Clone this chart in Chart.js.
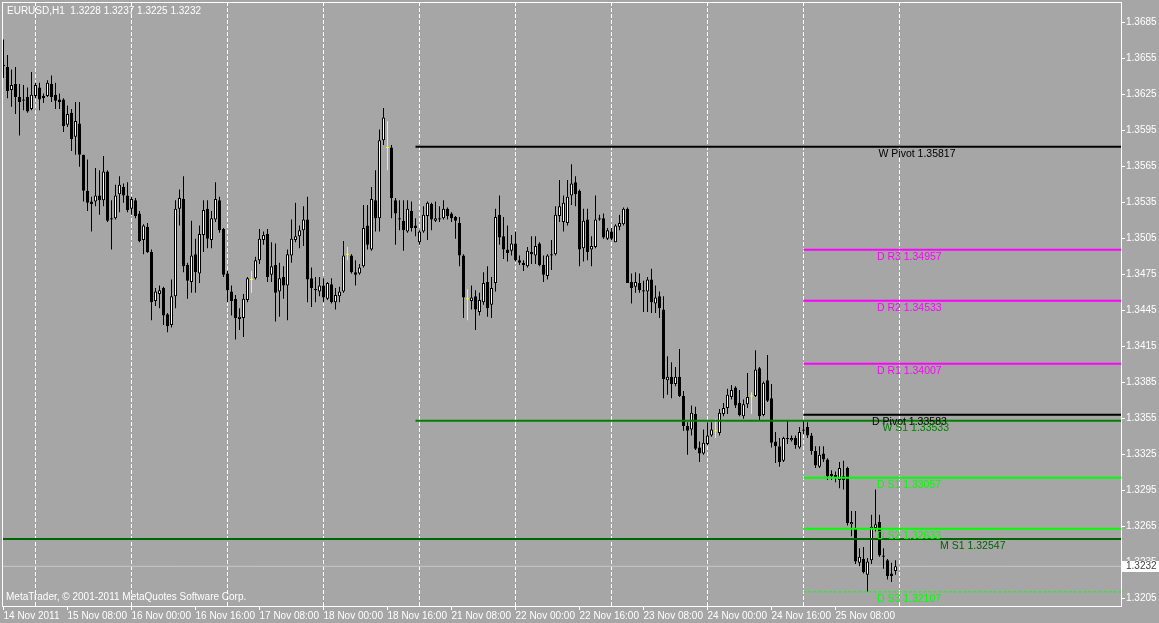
<!DOCTYPE html>
<html>
<head>
<meta charset="utf-8">
<script src="https://cdn.jsdelivr.net/npm/chart.js@4/dist/chart.umd.min.js"></script>
<style>
  html, body { margin: 0; padding: 0; background: #a6a6a6; }
  canvas { display: block; background: #a6a6a6; }
</style>
</head>
<body>
<canvas id="chart" width="1159" height="623"></canvas>
<script>
// EURUSD H1, 14 Nov 2011 16:00 .. 25 Nov 2011 23:00 (one entry per hour bar)
const opens = [
  1.3649,1.3648,1.3629,1.3634,1.3623,1.3621,1.3623,1.3613,1.3624,1.3631,1.3624,1.3624,1.3634,1.3625,1.3621,1.3621,
  1.3600,1.3610,1.3590,1.3601,1.3575,1.3545,1.3536,1.3536,1.3541,1.3537,1.3561,1.3522,1.3522,1.3542,1.3548,1.3541,
  1.3530,1.3537,1.3526,1.3504,1.3515,1.3494,1.3453,1.3459,1.3464,1.3442,1.3433,1.3457,1.3530,1.3538,1.3483,1.3469,
  1.3492,1.3476,1.3508,1.3530,1.3504,1.3521,1.3537,1.3513,1.3476,1.3461,1.3455,1.3438,1.3439,1.3454,1.3471,1.3472,
  1.3487,1.3504,1.3509,1.3475,1.3483,1.3461,1.3473,1.3466,1.3491,1.3504,1.3507,1.3512,1.3521,1.3472,1.3463,1.3461,
  1.3466,1.3455,1.3467,1.3452,1.3457,1.3461,1.3492,1.3491,1.3477,1.3476,1.3482,1.3516,1.3496,1.3537,1.3522,1.3587,
  1.3581,1.3581,1.3537,1.3522,1.3520,1.3511,1.3528,1.3516,1.3502,1.3511,1.3524,1.3534,1.3520,1.3522,1.3522,1.3530,
  1.3526,1.3523,1.3518,1.3491,1.3455,1.3453,1.3457,1.3444,1.3452,1.3469,1.3450,1.3468,1.3525,1.3507,1.3496,1.3495,
  1.3501,1.3487,1.3485,1.3482,1.3494,1.3491,1.3501,1.3483,1.3474,1.3492,1.3492,1.3524,1.3519,1.3518,1.3541,1.3552,
  1.3545,1.3497,1.3521,1.3496,1.3498,1.3522,1.3522,1.3505,1.3511,1.3502,1.3515,1.3517,1.3530,1.3469,1.3465,1.3468,
  1.3462,1.3461,1.3471,1.3451,1.3457,1.3446,1.3387,1.3390,1.3384,1.3390,1.3374,1.3349,1.3346,1.3359,1.3331,1.3326,
  1.3334,1.3341,1.3345,1.3343,1.3359,1.3364,1.3373,1.3381,1.3368,1.3357,1.3367,1.3374,1.3374,1.3397,1.3358,1.3387,
  1.3372,1.3336,1.3332,1.3320,1.3339,1.3337,1.3339,1.3331,1.3346,1.3348,1.3341,1.3328,1.3315,1.3326,1.3321,1.3309,
  1.3308,1.3304,1.3307,1.3314,1.3267,1.3264,1.3235,1.3238,1.3225,1.3237,1.3264,1.3269,1.3241,1.3237,1.3226,1.3228
];
const highs = [
  1.3671,1.3658,1.3646,1.3648,1.3634,1.3633,1.3631,1.3644,1.3635,1.3635,1.3626,1.3637,1.3641,1.3635,1.3626,1.3622,
  1.3616,1.3613,1.3619,1.3619,1.3575,1.3571,1.3540,1.3564,1.3562,1.3574,1.3562,1.3537,1.3550,1.3557,1.3551,1.3552,
  1.3540,1.3539,1.3528,1.3517,1.3518,1.3496,1.3464,1.3466,1.3465,1.3443,1.3471,1.3537,1.3546,1.3557,1.3485,1.3520,
  1.3505,1.3516,1.3537,1.3537,1.3528,1.3552,1.3540,1.3514,1.3478,1.3466,1.3458,1.3447,1.3459,1.3473,1.3478,1.3490,
  1.3513,1.3511,1.3513,1.3502,1.3501,1.3485,1.3482,1.3496,1.3521,1.3535,1.3516,1.3532,1.3540,1.3481,1.3473,1.3473,
  1.3472,1.3469,1.3472,1.3464,1.3465,1.3503,1.3498,1.3492,1.3487,1.3484,1.3533,1.3533,1.3548,1.3562,1.3596,1.3614,
  1.3603,1.3583,1.3539,1.3537,1.3537,1.3537,1.3536,1.3522,1.3512,1.3532,1.3536,1.3535,1.3536,1.3532,1.3537,1.3531,
  1.3527,1.3524,1.3523,1.3492,1.3463,1.3466,1.3462,1.3460,1.3477,1.3482,1.3473,1.3530,1.3541,1.3523,1.3516,1.3508,
  1.3511,1.3491,1.3487,1.3498,1.3507,1.3507,1.3502,1.3491,1.3492,1.3504,1.3532,1.3554,1.3541,1.3554,1.3567,1.3557,
  1.3546,1.3530,1.3530,1.3507,1.3541,1.3525,1.3526,1.3514,1.3514,1.3517,1.3525,1.3531,1.3531,1.3476,1.3477,1.3476,
  1.3470,1.3473,1.3480,1.3466,1.3461,1.3457,1.3407,1.3402,1.3398,1.3413,1.3378,1.3352,1.3366,1.3365,1.3336,1.3346,
  1.3352,1.3352,1.3355,1.3363,1.3368,1.3380,1.3383,1.3382,1.3379,1.3371,1.3393,1.3377,1.3412,1.3398,1.3386,1.3408,
  1.3384,1.3344,1.3339,1.3340,1.3353,1.3341,1.3341,1.3348,1.3353,1.3352,1.3343,1.3332,1.3332,1.3332,1.3322,1.3312,
  1.3311,1.3319,1.3320,1.3315,1.3278,1.3278,1.3247,1.3248,1.3239,1.3275,1.3296,1.3275,1.3247,1.3238,1.3235,1.3237
];
const lows = [
  1.3639,1.3622,1.3615,1.3609,1.3591,1.3612,1.3610,1.3612,1.3622,1.3612,1.3618,1.3623,1.3619,1.3613,1.3613,1.3594,
  1.3598,1.3578,1.3575,1.3565,1.3536,1.3528,1.3511,1.3532,1.3525,1.3532,1.3519,1.3496,1.3521,1.3527,1.3535,1.3527,
  1.3525,1.3522,1.3502,1.3492,1.3493,1.3437,1.3449,1.3447,1.3433,1.3427,1.3431,1.3447,1.3516,1.3477,1.3455,1.3460,
  1.3460,1.3468,1.3494,1.3497,1.3497,1.3519,1.3510,1.3473,1.3452,1.3441,1.3421,1.3429,1.3423,1.3452,1.3460,1.3471,
  1.3484,1.3500,1.3469,1.3469,1.3436,1.3440,1.3455,1.3437,1.3485,1.3502,1.3497,1.3499,1.3452,1.3448,1.3452,1.3457,
  1.3452,1.3454,1.3451,1.3446,1.3452,1.3460,1.3487,1.3476,1.3466,1.3475,1.3481,1.3496,1.3495,1.3511,1.3511,1.3583,
  1.3562,1.3522,1.3500,1.3512,1.3495,1.3510,1.3511,1.3507,1.3500,1.3510,1.3504,1.3512,1.3519,1.3519,1.3521,1.3521,
  1.3519,1.3505,1.3482,1.3439,1.3437,1.3446,1.3429,1.3441,1.3450,1.3440,1.3439,1.3461,1.3500,1.3488,1.3486,1.3491,
  1.3486,1.3483,1.3478,1.3481,1.3484,1.3484,1.3482,1.3469,1.3471,1.3479,1.3491,1.3519,1.3511,1.3516,1.3533,1.3532,
  1.3482,1.3486,1.3487,1.3482,1.3497,1.3520,1.3505,1.3504,1.3504,1.3502,1.3512,1.3516,1.3468,1.3451,1.3460,1.3460,
  1.3444,1.3444,1.3443,1.3443,1.3439,1.3372,1.3375,1.3372,1.3382,1.3373,1.3345,1.3325,1.3341,1.3329,1.3319,1.3325,
  1.3333,1.3340,1.3339,1.3341,1.3357,1.3359,1.3371,1.3364,1.3357,1.3355,1.3364,1.3359,1.3373,1.3354,1.3357,1.3369,
  1.3331,1.3318,1.3315,1.3319,1.3334,1.3336,1.3330,1.3330,1.3342,1.3339,1.3325,1.3314,1.3314,1.3319,1.3304,1.3304,
  1.3302,1.3297,1.3296,1.3266,1.3257,1.3234,1.3232,1.3226,1.3211,1.3234,1.3261,1.3240,1.3230,1.3221,1.3219,1.3225
];
const closes = [
  1.3650,1.3628,1.3633,1.3623,1.3619,1.3620,1.3611,1.3625,1.3633,1.3621,1.3622,1.3635,1.3623,1.3620,1.3619,1.3599,
  1.3609,1.3588,1.3603,1.3575,1.3545,1.3535,1.3534,1.3541,1.3537,1.3561,1.3520,1.3521,1.3541,1.3550,1.3541,1.3529,
  1.3538,1.3524,1.3503,1.3516,1.3494,1.3452,1.3461,1.3462,1.3441,1.3432,1.3457,1.3530,1.3539,1.3482,1.3470,1.3491,
  1.3477,1.3509,1.3529,1.3505,1.3522,1.3538,1.3512,1.3475,1.3462,1.3453,1.3439,1.3440,1.3455,1.3472,1.3471,1.3487,
  1.3505,1.3508,1.3473,1.3482,1.3460,1.3472,1.3466,1.3492,1.3505,1.3507,1.3512,1.3521,1.3471,1.3464,1.3462,1.3466,
  1.3456,1.3468,1.3452,1.3458,1.3461,1.3491,1.3492,1.3477,1.3475,1.3481,1.3514,1.3500,1.3538,1.3522,1.3587,1.3606,
  1.3581,1.3539,1.3526,1.3521,1.3512,1.3530,1.3514,1.3514,1.3511,1.3525,1.3535,1.3521,1.3522,1.3521,1.3530,1.3524,
  1.3522,1.3520,1.3491,1.3456,1.3455,1.3456,1.3446,1.3454,1.3468,1.3447,1.3464,1.3523,1.3506,1.3496,1.3493,1.3501,
  1.3487,1.3485,1.3483,1.3495,1.3492,1.3499,1.3483,1.3475,1.3491,1.3491,1.3525,1.3532,1.3535,1.3540,1.3551,1.3542,
  1.3496,1.3520,1.3494,1.3499,1.3521,1.3521,1.3506,1.3512,1.3505,1.3516,1.3518,1.3530,1.3468,1.3464,1.3469,1.3462,
  1.3461,1.3471,1.3452,1.3456,1.3447,1.3388,1.3390,1.3384,1.3390,1.3374,1.3349,1.3345,1.3360,1.3330,1.3326,1.3335,
  1.3341,1.3346,1.3345,1.3360,1.3364,1.3375,1.3379,1.3366,1.3358,1.3367,1.3373,1.3374,1.3396,1.3357,1.3385,1.3370,
  1.3335,1.3332,1.3319,1.3339,1.3338,1.3339,1.3333,1.3344,1.3345,1.3341,1.3328,1.3316,1.3325,1.3321,1.3307,1.3307,
  1.3306,1.3314,1.3304,1.3268,1.3269,1.3236,1.3240,1.3227,1.3236,1.3265,1.3267,1.3241,1.3240,1.3224,1.3224,1.3232
];

// time axis labels (every 16 bars) and day separators
const xLabels = ['14 Nov 2011','15 Nov 08:00','16 Nov 00:00','16 Nov 16:00','17 Nov 08:00','18 Nov 00:00','18 Nov 16:00',
  '21 Nov 08:00','22 Nov 00:00','22 Nov 16:00','23 Nov 08:00','24 Nov 00:00','24 Nov 16:00','25 Nov 08:00'];
const xLabelBars = [0,16,32,48,64,80,96,112,128,144,160,176,192,208];
const dayBars = [8,32,56,80,104,128,152,176,200,224];

const priceTicks = [1.3205,1.3235,1.3265,1.3295,1.3325,1.3355,1.3385,1.3415,1.3445,1.3475,1.3505,1.3535,1.3565,1.3595,1.3625,1.3655,1.3685];

// pivot levels
const levelNames  = ['W Pivot','D R3','D R2','D R1','D Pivot','W S1','D S1','D S2','M S1','D S3'];
const levelValues = [1.35817,1.34957,1.34533,1.34007,1.33583,1.33533,1.33057,1.32633,1.32547,1.32107];
const levelFrom   = [103,200,200,200,200,103,200,200,null,200];   // bar where the line starts (null = left edge)

const lastPrice = 1.3232;
const header = 'EURUSD,H1  1.3228 1.3237 1.3225 1.3232';

// ---- look ----
const X_MIN = -0.375, X_MAX = 279.625;
const Y_MIN = 1.319892, Y_MAX = 1.370225;
const FONT = '"Liberation Sans", Arial, sans-serif';
const levelColors = ['#000000','#ff00ff','#ff00ff','#ff00ff','#000000','#008000','#00ff00','#00ff00','#006400','#00ff00'];
const levelWidth  = [2,2,2,2,2,2,2,2,2,1];
const levelDash   = [[],[],[],[],[],[],[],[],[],[3,2]];
const levelTextBar = [219,218.6,218.6,218.6,217.4,220,218.6,218.6,234.4,218.6];

const bars = opens.map((o, i) => i);
const isDoji = i => opens[i] === closes[i];
const bodyBars = bars.filter(i => !isDoji(i));
const dojiBars = bars.filter(i => isDoji(i));

const datasets = [
  {
    type: 'line', order: 9, data: [{x: X_MIN, y: lastPrice}, {x: X_MAX, y: lastPrice}],
    borderColor: '#c8c8c8', borderWidth: 1, pointRadius: 0
  },
  {
    type: 'bar', order: 4, grouped: false, inflateAmount: 0,
    data: bars.map(i => ({x: i, y: [lows[i], highs[i]]})),
    barThickness: 1, borderWidth: 0,
    backgroundColor: bars.map(i => isDoji(i) ? '#ffff00' : '#000000')
  },
  {
    type: 'bar', order: 3, grouped: false, inflateAmount: 0,
    data: bodyBars.map(i => ({x: i, y: [opens[i], closes[i]]})),
    barThickness: 3, borderWidth: 1, borderColor: '#000000', borderSkipped: false,
    backgroundColor: bodyBars.map(i => closes[i] > opens[i] ? '#ffffff' : '#000000')
  },
  {
    type: 'scatter', order: 2, data: dojiBars.map(i => ({x: i, y: opens[i]})),
    pointStyle: 'line', pointRadius: 1.5, borderColor: '#ffff00', borderWidth: 1
  }
];
levelValues.forEach((v, k) => {
  datasets.push({
    type: 'line', order: 1,
    data: [{x: levelFrom[k] === null ? X_MIN : levelFrom[k], y: v}, {x: X_MAX, y: v}],
    borderColor: levelColors[k], borderWidth: levelWidth[k], borderDash: levelDash[k], pointRadius: 0
  });
});

const noPad = s => { s.paddingLeft = 0; s.paddingRight = 0; s.paddingTop = 0; s.paddingBottom = 0; };

const decor = {
  id: 'decor',
  afterDatasetsDraw(chart) {
    const {ctx, scales: {x, y}} = chart;
    ctx.save();
    ctx.font = '10.5px ' + FONT;
    ctx.textBaseline = 'middle';
    levelValues.forEach((v, k) => {
      ctx.fillStyle = levelColors[k];
      ctx.fillText(levelNames[k] + ' ' + v.toFixed(5), x.getPixelForValue(levelTextBar[k]) - 1, y.getPixelForValue(v) + 7);
    });
    ctx.restore();
  },
  afterDraw(chart) {
    const {ctx, chartArea: a, scales: {y}} = chart;
    ctx.save();
    ctx.strokeStyle = '#ffffff';
    ctx.lineWidth = 1;
    ctx.strokeRect(a.left + 0.5, a.top + 0.5, a.right - a.left - 1, a.bottom - a.top);
    ctx.font = '10px ' + FONT;
    ctx.textBaseline = 'middle';
    ctx.fillStyle = '#ffffff';
    ctx.fillText(header, 7, 11);
    ctx.fillText('MetaTrader, \u00a9 2001-2011 MetaQuotes Software Corp.', 6, 597);
    const py = Math.round(y.getPixelForValue(lastPrice));
    ctx.fillRect(a.right, py - 5, 1159 - a.right, 11);
    ctx.fillStyle = '#404040';
    ctx.fillText(lastPrice.toFixed(4), a.right + 4, py + 0.5);
    ctx.restore();
  }
};

new Chart(document.getElementById('chart'), {
  type: 'bar',
  data: { datasets },
  plugins: [decor],
  options: {
    responsive: false,
    devicePixelRatio: 1,
    animation: false,
    events: [],
    layout: { autoPadding: false, padding: { left: 2, top: 2, right: 0, bottom: 0 } },
    plugins: { legend: { display: false }, tooltip: { enabled: false } },
    scales: {
      x: {
        type: 'linear', position: 'bottom', min: X_MIN, max: X_MAX, offset: false,
        afterBuildTicks: s => { s.ticks = xLabelBars.map(v => ({value: v})); },
        afterFit: s => { s.height = 17; noPad(s); },
        ticks: {
          autoSkip: false, maxRotation: 0, minRotation: 0, align: 'start', padding: 0,
          color: '#ffffff', font: { family: FONT, size: 10 },
          callback: (v, idx) => xLabels[idx]
        },
        grid: { offset: false, drawOnChartArea: false, drawTicks: true, tickLength: 4, color: '#ffffff' },
        border: { display: false }
      },
      xg: {
        type: 'linear', position: 'top', min: X_MIN, max: X_MAX, offset: false,
        afterBuildTicks: s => { s.ticks = dayBars.map(v => ({value: v})); },
        afterFit: s => { s.height = 0; noPad(s); },
        ticks: { display: false },
        grid: { offset: false, color: '#ffffff', lineWidth: 1, drawTicks: false },
        border: { display: false, dash: [4, 2] }
      },
      y: {
        type: 'linear', position: 'right', min: Y_MIN, max: Y_MAX,
        afterBuildTicks: s => { s.ticks = priceTicks.map(v => ({value: v})); },
        afterFit: s => { s.width = 37; noPad(s); },
        ticks: {
          padding: 1, color: '#ffffff', font: { family: FONT, size: 10 },
          callback: v => v.toFixed(4)
        },
        grid: { drawOnChartArea: false, drawTicks: true, tickLength: 3, color: '#ffffff' },
        border: { display: false }
      }
    }
  }
});
</script>
</body>
</html>
